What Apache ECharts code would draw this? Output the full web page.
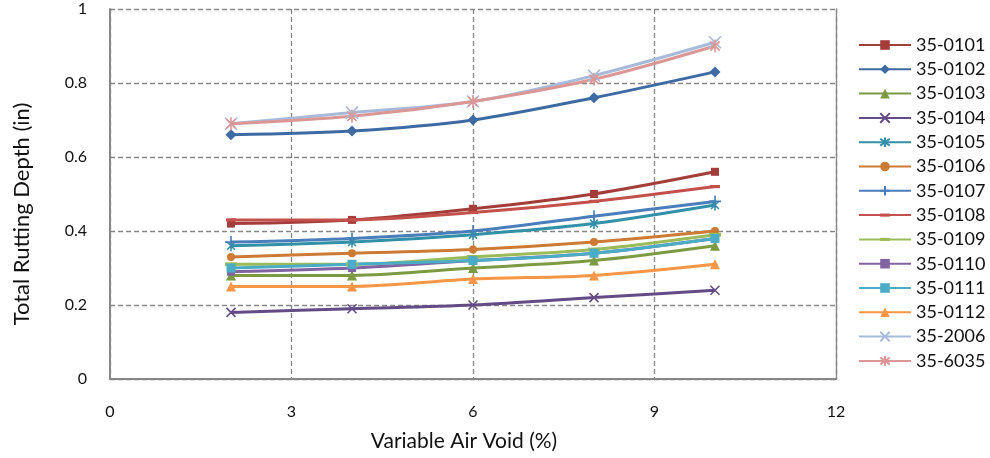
<!DOCTYPE html>
<html>
<head>
<meta charset="utf-8">
<script src="https://cdn.jsdelivr.net/npm/echarts@6/dist/echarts.min.js"></script>
<style>
  html, body { margin: 0; padding: 0; background: #fff; }
  #chart { width: 990px; height: 458px; }
</style>
</head>
<body>
<div id="chart"></div>
<script>
// Air void levels (%) at which rutting was computed
const airVoids = [2, 4, 6, 8, 10];

// Section names
const sections = ['35-0101', '35-0102', '35-0103', '35-0104', '35-0105', '35-0106', '35-0107',
                  '35-0108', '35-0109', '35-0110', '35-0111', '35-0112', '35-2006', '35-6035'];

// Total rutting depth (in) per section
const rut0101 = [0.42, 0.43, 0.46, 0.50, 0.56];
const rut0102 = [0.66, 0.67, 0.70, 0.76, 0.83];
const rut0103 = [0.28, 0.28, 0.30, 0.32, 0.36];
const rut0104 = [0.18, 0.19, 0.20, 0.22, 0.24];
const rut0105 = [0.36, 0.37, 0.39, 0.42, 0.47];
const rut0106 = [0.33, 0.34, 0.35, 0.37, 0.40];
const rut0107 = [0.37, 0.38, 0.40, 0.44, 0.48];
const rut0108 = [0.43, 0.43, 0.45, 0.48, 0.52];
const rut0109 = [0.31, 0.31, 0.33, 0.35, 0.39];
const rut0110 = [0.29, 0.30, 0.32, 0.34, 0.38];
const rut0111 = [0.30, 0.31, 0.32, 0.34, 0.38];
const rut0112 = [0.25, 0.25, 0.27, 0.28, 0.31];
const rut2006 = [0.69, 0.72, 0.75, 0.82, 0.91];
const rut6035 = [0.69, 0.71, 0.75, 0.81, 0.90];

// Axis ticks
const xTicks = [0, 3, 6, 9, 12];
const yTicks = [0, 0.2, 0.4, 0.6, 0.8, 1];

const rutValues = [rut0101, rut0102, rut0103, rut0104, rut0105, rut0106, rut0107,
                   rut0108, rut0109, rut0110, rut0111, rut0112, rut2006, rut6035];

// Marker shapes (the dash shapes carry empty move-to points so their box stays square)
const SYM_X = 'path://M0,0L10,10M10,0L0,10';
const SYM_STAR = 'path://M0,0L10,10M10,0L0,10M5,-2L5,12';
const SYM_PLUS = 'path://M5,0L5,10M0,5L10,5';
const SYM_DASH = 'path://M0,-3.4M0,0L10,0L10,3.2L0,3.2ZM0,6.6';

const styles = [
  { color: '#A33D39', symbol: 'rect', size: 8, stroke: false },
  { color: '#3E6AA3', symbol: 'diamond', size: 11, stroke: false },
  { color: '#7C9A42', symbol: 'triangle', size: 10, stroke: false },
  { color: '#634C85', symbol: SYM_X, size: 9, stroke: true },
  { color: '#3290A7', symbol: SYM_STAR, size: 11, stroke: true },
  { color: '#CD7A35', symbol: 'circle', size: 8, stroke: false },
  { color: '#4A7EBB', symbol: SYM_PLUS, size: 12, stroke: true },
  { color: '#C4504C', symbol: SYM_DASH, size: 10, stroke: false },
  { color: '#9BBB59', symbol: SYM_DASH, size: 12, stroke: false },
  { color: '#8064A2', symbol: 'rect', size: 8, stroke: false },
  { color: '#4BACC6', symbol: 'rect', size: 9, stroke: false },
  { color: '#F79646', symbol: 'triangle', size: 10, stroke: false },
  { color: '#A7BADA', symbol: SYM_X, size: 12, stroke: true },
  { color: '#DA9795', symbol: SYM_STAR, size: 13, stroke: true }
];

const FONT = 'Lato, "Open Sans", "Noto Sans", sans-serif';
const GRID_COLOR = '#878787';

const series = sections.map(function (name, i) {
  const st = styles[i];
  return {
    name: name,
    type: 'line',
    smooth: 0.3,
    data: airVoids.map(function (x, j) { return [x, rutValues[i][j]]; }),
    symbol: st.symbol,
    symbolSize: st.size,
    symbolKeepAspect: true,
    showAllSymbol: true,
    lineStyle: { color: st.color, width: 3 },
    itemStyle: st.stroke
      ? { color: st.color, borderColor: st.color, borderWidth: 1.6 }
      : { color: st.color, borderWidth: 0 },
    emphasis: { disabled: true },
    animation: false
  };
});

const chart = echarts.init(document.getElementById('chart'), null, { renderer: 'canvas' });
chart.setOption({
  backgroundColor: '#ffffff',
  animation: false,
  grid: { left: 110, right: 154, top: 9, bottom: 79, containLabel: false },
  legend: {
    orient: 'vertical',
    left: 853,
    top: 31,
    itemWidth: 52,
    itemHeight: 12,
    itemGap: 6.3,
    data: sections,
    textStyle: { fontFamily: FONT, fontSize: 18, color: '#111', lineHeight: 16 }
  },
  xAxis: {
    type: 'value',
    min: xTicks[0],
    max: xTicks[xTicks.length - 1],
    interval: xTicks[1] - xTicks[0],
    name: 'Variable Air Void (%)',
    nameLocation: 'middle',
    nameGap: 52,
    nameTextStyle: { fontFamily: FONT, fontSize: 21, color: '#111', padding: [0, 18, 0, 0] },
    axisLine: { show: true, lineStyle: { color: GRID_COLOR, width: 2 } },
    axisTick: { show: false },
    axisLabel: { margin: 25, fontFamily: FONT, fontSize: 16, color: '#111' },
    splitLine: { show: true, lineStyle: { color: GRID_COLOR, width: 1.3, type: [5, 3] } }
  },
  yAxis: [
    {
      type: 'value',
      min: yTicks[0],
      max: yTicks[yTicks.length - 1],
      interval: yTicks[1] - yTicks[0],
      name: 'Total Rutting Depth (in)',
      nameLocation: 'middle',
      nameGap: 77,
      nameTextStyle: { fontFamily: FONT, fontSize: 22, color: '#111', padding: [0, 40, 0, 0] },
      axisLine: { show: true, lineStyle: { color: GRID_COLOR, width: 2 } },
      axisTick: { show: false },
      axisLabel: { margin: 23, fontFamily: FONT, fontSize: 16, color: '#111' },
      splitLine: { show: true, lineStyle: { color: GRID_COLOR, width: 1.3, type: [5, 3] } }
    },
    {
      // right-hand frame of the plot area
      type: 'value',
      position: 'right',
      min: yTicks[0],
      max: yTicks[yTicks.length - 1],
      interval: yTicks[1] - yTicks[0],
      axisLine: { show: true, lineStyle: { color: GRID_COLOR, width: 1.3 } },
      axisTick: { show: false },
      axisLabel: { show: false },
      splitLine: { show: false }
    }
  ],
  series: series
});
</script>
</body>
</html>
